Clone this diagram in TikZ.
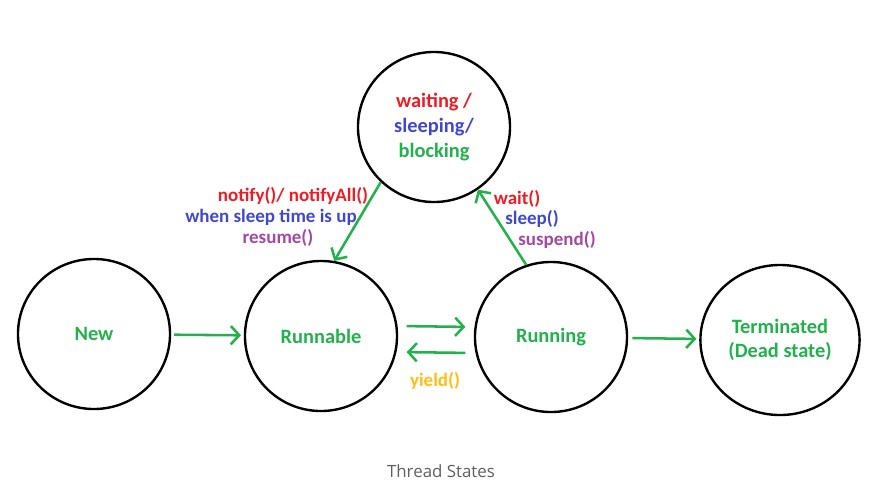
\documentclass[tikz,border=0pt]{standalone}
\usepackage{fontspec}
\setmainfont{Carlito}
\newfontfamily\captionfont{Open Sans}
\usetikzlibrary{shapes.geometric,arrows.meta}

\definecolor{stategreen}{RGB}{34,177,76}
\definecolor{callred}{RGB}{237,28,36}
\definecolor{callblue}{RGB}{63,72,204}
\definecolor{callpurple}{RGB}{163,73,164}
\definecolor{callyellow}{RGB}{255,190,20}
\definecolor{captiongray}{RGB}{95,95,95}

\begin{document}
\begin{tikzpicture}[x=0.025cm, y=-0.025cm,
  state/.style={draw, ellipse, line width=1.7pt, minimum width=3.8cm,
    minimum height=3.75cm, text=stategreen, align=center,
    font=\bfseries\fontsize{14.5}{17.5}\selectfont},
  move/.style={draw=stategreen, line width=1.8pt,
    -{Straight Barb[length=6pt,width=13pt]}},
  call/.style={font=\bfseries\fontsize{13.5}{15}\selectfont, inner sep=0pt}]
\useasboundingbox (0,0) rectangle (877,495);

% The five states
\node [state] (new) at (94,334) {New};
\node [state] (runnable) at (321,336) {Runnable};
\node [state] (running) at (551,337) {Running};
\node [state] (dead) at (780,340) {Terminated\\(Dead state)};
\node [state] (wait) at (434,127) {\textcolor{callred}{waiting /}\\
  \textcolor{callblue}{sleeping/}\\blocking};

% Moves between the states
\draw [move, shorten <=2pt, shorten >=2pt] (new) -- (runnable);
\draw [move, shorten <=6pt, shorten >=6pt] ([yshift=0.25cm]runnable.east)
  -- ([yshift=0.25cm]running.west);
\draw [move, shorten <=6pt, shorten >=6pt] ([yshift=-0.4cm]running.west)
  -- ([yshift=-0.4cm]runnable.east);
\draw [move, shorten <=3pt, shorten >=2pt] (running) -- (dead);
\draw [move] (wait.226) -- (runnable.80);
\draw [move] (running.109) -- (wait.305);

% Method calls on the moves
\foreach \x/\y/\col/\txt in {
  293/196/callred/{notify()/ notifyAll()},
  271/217/callblue/{when sleep time is up},
  278/238/callpurple/{resume()},
  517/199/callred/{wait()},
  532/219/callblue/{sleep()},
  557/240/callpurple/{suspend()},
  435/381/callyellow/{yield()}} {
  \node [call, text=\col] at (\x,\y) {\txt};
}

\node [font=\captionfont\fontsize{12}{14}\selectfont, text=captiongray] (caption)
  at (441,471) {Thread States};
\end{tikzpicture}
\end{document}
